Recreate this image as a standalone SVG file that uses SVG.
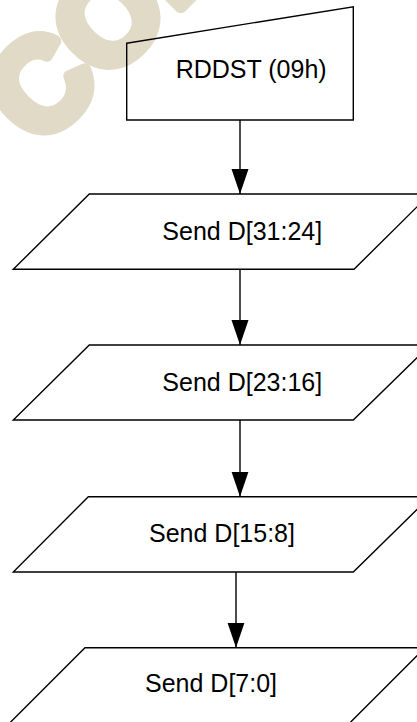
<svg xmlns="http://www.w3.org/2000/svg" width="417" height="722" viewBox="0 0 417 722">
<style>
.shape{fill:none;stroke:#000;stroke-width:1.4;stroke-linejoin:miter}
.lbl{font-family:"Liberation Sans",Arial,sans-serif;font-size:25px;fill:#000}
.conn{stroke:#000;stroke-width:1.4;fill:none;marker-end:url(#arr)}
.wm{font-family:"Liberation Sans",Arial,sans-serif;font-weight:bold;font-size:128px;fill:#E0DAC7;stroke:#E0DAC7;stroke-width:12;stroke-linejoin:round}
</style>
<defs>
<marker id="arr" markerUnits="userSpaceOnUse" markerWidth="26" markerHeight="18" refX="25" refY="8.5" orient="auto">
<path d="M0,0 L25,8.5 L0,17 Z" fill="#000"/>
</marker>
</defs>
<rect width="417" height="722" fill="#fff"/>
<text class="wm" x="39" y="149" transform="rotate(-45 39 149)">CONFIDENTIAL</text>
<g id="connectors">
<line class="conn" x1="240" y1="120" x2="240" y2="194"/>
<line class="conn" x1="240" y1="269.3" x2="240" y2="345"/>
<line class="conn" x1="240" y1="420" x2="240" y2="496.7"/>
<line class="conn" x1="236" y1="572" x2="236" y2="647.7"/>
</g>
<g id="rddst">
<polygon class="shape" points="126.7,43.3 353.3,6.7 353.3,120 126.7,120"/>
<text class="lbl" x="175.7" y="78.3">RDDST (09h)</text>
</g>
<g id="send1">
<polygon class="shape" points="89.3,194 430,194 354,269.3 13.3,269.3"/>
<text class="lbl" x="162.3" y="240">Send D[31:24]</text>
</g>
<g id="send2">
<polygon class="shape" points="89.3,345 430,345 353.3,420 13.3,420"/>
<text class="lbl" x="162.3" y="390.7">Send D[23:16]</text>
</g>
<g id="send3">
<polygon class="shape" points="88.3,496.7 430,496.7 353.3,572 13.3,572"/>
<text class="lbl" x="149" y="541.7">Send D[15:8]</text>
</g>
<g id="send4">
<polygon class="shape" points="85,647.7 425,647.7 350,722.7 10,722.7"/>
<text class="lbl" x="145" y="692.3">Send D[7:0]</text>
</g>
</svg>
